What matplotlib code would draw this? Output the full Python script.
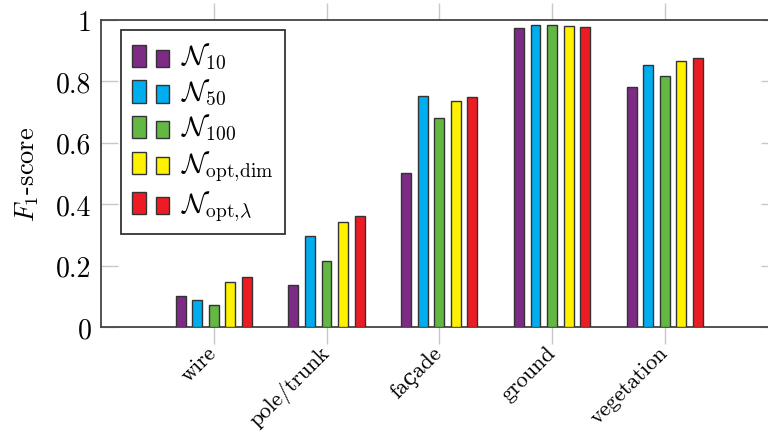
import matplotlib
matplotlib.use("Agg")
import matplotlib.pyplot as plt
import numpy as np
from matplotlib.patches import Rectangle
from matplotlib.legend_handler import HandlerBase

plt.rcParams['mathtext.fontset'] = 'cm'
plt.rcParams['font.family'] = ['cmr10', 'DejaVu Serif']
plt.rcParams['axes.formatter.use_mathtext'] = True

categories = ['wire', 'pole/trunk', 'façade', 'ground', 'vegetation']
series_labels = [r'$\mathcal{N}_{10}$', r'$\mathcal{N}_{50}$', r'$\mathcal{N}_{100}$',
                 r'$\mathcal{N}_{\mathrm{opt,\!dim}}$', r'$\mathcal{N}_{\mathrm{opt},\!\lambda}$']
n10 = [0.100, 0.138, 0.502, 0.975, 0.783]
n50 = [0.087, 0.295, 0.751, 0.984, 0.852]
n100 = [0.072, 0.215, 0.681, 0.984, 0.818]
nopt_dim = [0.146, 0.342, 0.735, 0.980, 0.865]
nopt_lam = [0.163, 0.362, 0.748, 0.978, 0.875]
yticks = [0, 0.2, 0.4, 0.6, 0.8, 1]

colors = ['#7d2b84', '#00aeef', '#63b844', '#fff200', '#ed1c24']
edge = '#333333'


class TwoBars(HandlerBase):
    # pgfplots-style ybar legend: a tall bar and a shorter one
    def create_artists(self, legend, orig, xd, yd, w, h, fontsize, trans):
        fc = orig.get_facecolor()
        x0, y0 = -xd, -yd
        r1 = Rectangle((x0, y0 - 0.1 * h), w * 0.37, h * 1.1, fc=fc, ec=edge, lw=1.0, transform=trans)
        r2 = Rectangle((x0 + w * 0.65, y0 - 0.1 * h), w * 0.35, h * 0.85, fc=fc, ec=edge, lw=1.0, transform=trans)
        return [r1, r2]


fig = plt.figure(figsize=(7.68, 4.35), dpi=100)
ax = fig.add_axes([0.1315, 0.246, 0.881, 0.7057])

x = np.arange(len(categories))
step = 0.147
width = 0.088
data = [n10, n50, n100, nopt_dim, nopt_lam]
bars = []
for i, vals in enumerate(data):
    b = ax.bar(x + (i - 2) * step, vals, width, color=colors[i], edgecolor=edge,
               linewidth=1.0, label=series_labels[i], zorder=3)
    bars.append(b)

ax.set_xlim(-1, 5)
ax.set_ylim(0, 1)
ax.set_yticks(yticks)
ax.set_yticklabels([f'{v:g}' for v in yticks])
ax.set_xticks(x)
ax.set_xticklabels(categories, rotation=45, ha='right', va='center', rotation_mode='anchor')

for s in ax.spines.values():
    s.set_color('#444444')
    s.set_linewidth(1.3)

ax.tick_params(axis='y', direction='in', length=12, color='#c8c8c8', width=1.0,
               labelsize=20, right=True, pad=7)
ax.tick_params(axis='x', direction='out', length=12, color='#c8c8c8', width=1.0,
               labelsize=16, top=True, pad=4)

ax.set_ylabel(r'$F_1$-score', fontsize=19, labelpad=11)

leg = ax.legend(handles=[b[0] for b in bars], labels=series_labels,
                handler_map={type(bars[0][0]): TwoBars()},
                loc='upper left', bbox_to_anchor=(0.03, 0.967), borderaxespad=0,
                fontsize=20, fancybox=False, framealpha=1, edgecolor='#333333',
                handlelength=1.3, handleheight=0.75, labelspacing=0.2,
                borderpad=0.4, handletextpad=0.45)
leg.get_frame().set_linewidth(1.3)

fig.savefig('out.png', dpi=100)
